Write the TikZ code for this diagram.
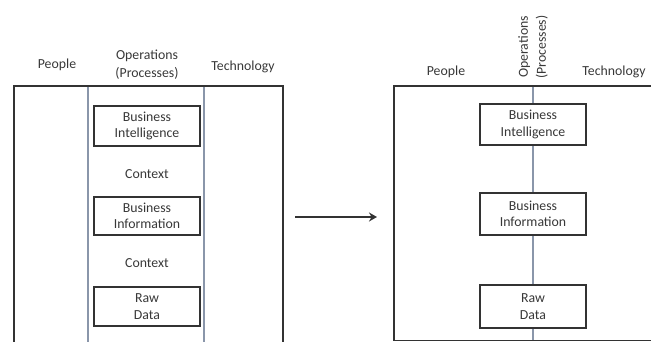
\documentclass[tikz,border=0pt]{standalone}
\usepackage{fontspec}
\setmainfont{Carlito}
\usetikzlibrary{arrows.meta}
\definecolor{edge}{HTML}{333333}
\definecolor{lane}{HTML}{8A96AA}
\definecolor{ink}{HTML}{383838}
\tikzset{
  frame/.style={draw=edge, line width=1.7pt},
  laneline/.style={draw=lane, line width=1.1pt},
  stage/.style={draw=edge, line width=1.3pt, fill=white, minimum width=106pt,
    align=center, inner sep=0pt, text=ink, font=\fontsize{13.8}{16.5}\selectfont},
  lbl/.style={align=center, text=ink, inner sep=0pt, font=\fontsize{13.8}{18}\selectfont},
}
\begin{document}
\begin{tikzpicture}[x=1pt, y=-1pt]
\useasboundingbox (0,0) rectangle (651,342);

% ---- left: three lanes, information stack in the middle lane
\draw[frame] (14,343) -- (14,86) -- (283,86) -- (283,343);
\draw[laneline] (88,86.8) -- (88,343);
\draw[laneline] (204,86.8) -- (204,343);

\node[lbl] (lpeople) at (57,65) {People};
\node[lbl] (lops) at (147,65) {Operations\\(Processes)};
\node[lbl] (ltech) at (243,67) {Technology};

\node[stage, minimum height=40pt] (lbi) at (147,126) {Business\\Intelligence};
\node[lbl] (lctx1) at (147,174) {Context};
\node[stage, minimum height=38pt] (lbinfo) at (147,216) {Business\\Information};
\node[lbl] (lctx2) at (147,263) {Context};
\node[stage, minimum height=39pt] (lraw) at (147,306.5) {Raw\\Data};

% ---- transition arrow
\coordinate (afrom) at (295,217);
\coordinate (ato) at (377,217);
\draw[line width=2.2pt, edge, -{Stealth[length=8pt, width=9pt]}] (afrom) -- (ato);

% ---- right: single axis, stages sit on it
\draw[frame] (652,340.5) -- (394,340.5) -- (394,86) -- (652,86);
\coordinate (axtop) at (533,86.8);
\coordinate (axbot) at (533,340);
\draw[laneline] (axtop) -- (axbot);

\node[lbl] (rpeople) at (446,72) {People};
\node[lbl, rotate=90] (rops) at (533,47) {Operations\\(Processes)};
\node[lbl] (rtech) at (614,72) {Technology};

\node[stage, minimum height=41pt] (rbi) at (533,124.5) {Business\\Intelligence};
\node[stage, minimum height=42pt] (rbinfo) at (533,214) {Business\\Information};
\node[stage, minimum height=43pt] (rraw) at (533,306.5) {Raw\\Data};
\end{tikzpicture}
\end{document}
